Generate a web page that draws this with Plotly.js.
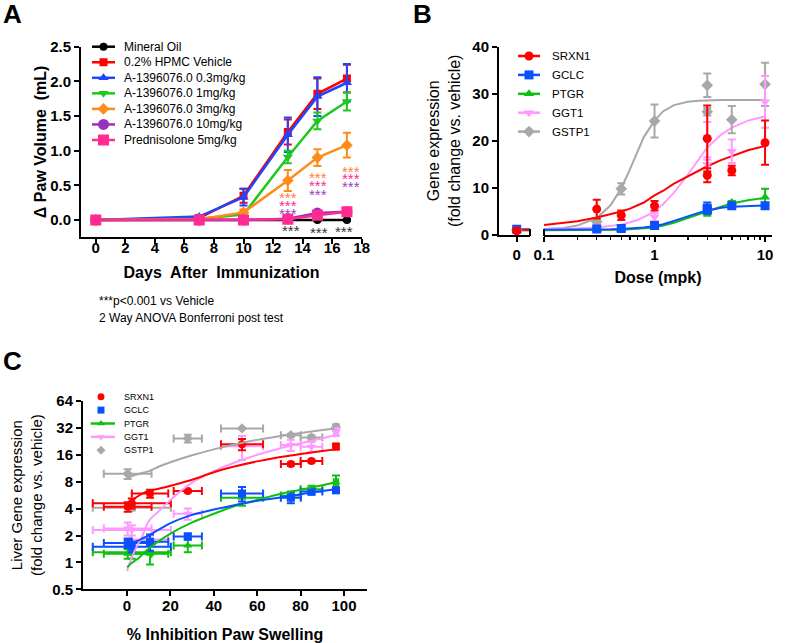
<!DOCTYPE html>
<html><head><meta charset="utf-8">
<script src="https://cdn.plot.ly/plotly-3.0.1.min.js"></script>
<style>html,body{margin:0;padding:0;background:#fff}#chart{width:789px;height:643px}</style>
</head><body><div id="chart"></div>
<script>
// ================= DATA =================
// ---- Panel A: paw volume over time ----
const daysA = [0, 7, 10, 13, 15, 17];
const namesA = ['Mineral Oil', '0.2% HPMC Vehicle', 'A-1396076.0 0.3mg/kg', 'A-1396076.0 1mg/kg',
                'A-1396076.0 3mg/kg', 'A-1396076.0 10mg/kg', 'Prednisolone 5mg/kg'];
const mineralOil    = [0, 0, 0, 0, 0, 0];
const mineralOilErr = [0, 0, 0, 0.01, 0.01, 0.01];
const vehicle       = [0, 0.03, 0.35, 1.27, 1.82, 2.04];
const vehicleErr    = [0, 0.02, 0.10, 0.18, 0.22, 0.20];
const dose03        = [0, 0.05, 0.33, 1.23, 1.78, 1.98];
const dose03Err     = [0, 0.02, 0.12, 0.25, 0.28, 0.27];
const dose1         = [0, 0.02, 0.08, 0.91, 1.43, 1.71];
const dose1Err      = [0, 0.01, 0.03, 0.09, 0.12, 0.13];
const dose3         = [0, 0.01, 0.11, 0.57, 0.90, 1.08];
const dose3Err      = [0, 0.01, 0.04, 0.15, 0.12, 0.18];
const dose10        = [0, 0, 0, 0.02, 0.10, 0.12];
const dose10Err     = [0, 0, 0, 0.01, 0.02, 0.02];
const pred          = [0, 0, 0, 0.01, 0.07, 0.12];
const predErr       = [0, 0, 0, 0.01, 0.02, 0.02];
const ticksAx = [0, 2, 4, 6, 8, 10, 12, 14, 16, 18];
const ticksAy = [0, 0.5, 1.0, 1.5, 2.0, 2.5];
// significance marks (day, level)
const sigColorDays = [13, 15.05, 17.25];
const sigOrangeY = [0.375, 0.65, 0.746];
const sigPinkY   = [0.255, 0.54, 0.635];
const sigPurpleY = [0.144, 0.41, 0.52];
const sigBlackDays = [13.2, 15.1, 16.8];
const sigBlackY    = [-0.11, -0.13, -0.12];

// ---- Panel B: gene expression vs dose ----
const genes = ['SRXN1', 'GCLC', 'PTGR', 'GGT1', 'GSTP1'];
const doseB = [0.3, 0.5, 1, 3, 3, 5, 10];
const srxn1B = [5.5, 4.2, 6.2, 20.5, 12.7, 13.7, 19.6];
const srxn1BErr = [2.0, 1.0, 1.0, 7.0, 1.5, 1.0, 4.7];
const gclcB = [1.3, 1.4, 2.0, 5.7, 5.3, 6.2, 6.2];
const gclcBErr = [0.3, 0.3, 0.4, 1.2, 0.6, 0.4, 0.5];
const ptgrB = [1.1, 1.1, 1.6, 4.9, 5.2, 6.9, 8.0];
const ptgrBErr = [0.2, 0.2, 0.3, 0.8, 0.5, 0.3, 1.8];
const ggt1B = [1.4, 1.7, 3.8, 20.0, 15.0, 17.8, 28.3];
const ggt1BErr = [0.3, 0.4, 0.8, 4.0, 1.5, 2.5, 5.5];
const gstp1B = [2.8, 9.8, 24.2, 31.8, 26.2, 24.5, 32.0];
const gstp1BErr = [0.5, 1.2, 3.5, 2.5, 0.8, 2.9, 4.6];
// vehicle (dose 0) values
const zeroDose = [0];
const srxn1Zero = [0.9], gclcZero = [1.2], ptgrZero = [1.0], ggt1Zero = [1.0], gstp1Zero = [1.0];
const zeroErr = [0.3];
// fitted curves
const curveDoseB = [0.1, 0.15, 0.2, 0.3, 0.4, 0.5, 0.6, 0.7, 0.8, 1, 1.2, 1.5, 2, 2.5, 3, 4, 5, 7, 10];
const srxn1Curve = [2.1, 2.5, 2.9, 3.7, 4.4, 5.0, 5.6, 6.3, 6.9, 8.4, 9.4, 10.9, 12.5, 13.7, 14.6, 15.9, 16.8, 18.0, 18.9];
const gclcCurve  = [1.1, 1.1, 1.1, 1.2, 1.2, 1.3, 1.4, 1.5, 1.6, 1.9, 2.3, 3.0, 4.0, 4.7, 5.2, 5.8, 6.0, 6.2, 6.3];
const ptgrCurve  = [1.0, 1.0, 1.0, 1.0, 1.1, 1.1, 1.2, 1.3, 1.4, 1.6, 2.0, 2.6, 3.6, 4.4, 5.0, 6.0, 6.7, 7.4, 7.9];
const ggt1Curve  = [1.3, 1.3, 1.4, 1.6, 1.9, 2.2, 2.7, 3.2, 3.8, 5.0, 6.6, 9.0, 12.8, 16.0, 18.6, 21.3, 22.8, 24.3, 25.2];
const gstp1Curve = [1.3, 1.5, 2.0, 3.6, 6.3, 9.9, 14.0, 17.8, 20.8, 24.3, 26.3, 27.6, 28.3, 28.5, 28.6, 28.7, 28.7, 28.7, 28.7];
const zeroCurveLevel = [1.1, 1.2, 1.0, 1.0, 1.0];
const ticksBx = [0.1, 1, 10];
const ticksBxText = ['0.1', '1', '10'];
const minorBx = [0.2, 0.3, 0.4, 0.5, 0.6, 0.7, 0.8, 0.9, 2, 3, 4, 5, 6, 7, 8, 9];
const ticksBy = [0, 10, 20, 30, 40];

// ---- Panel C: gene expression vs % inhibition ----
const inhibC    = [0.3, 2.2, 10.6, 28, 53, 75.5, 85, 96.3];
const inhibCErr = [11, 18, 8.4, 6.5, 9.7, 4.6, 5, 1];
const srxn1C = [4.2, 4.6, 5.9, 6.3, 21.0, 12.6, 13.6, 19.8];
const srxn1CErr = [0.5, 0.6, 0.6, 0.2, 3.0, 0.5, 0.5, 1.5];
const gclcC = [1.65, 1.5, 1.7, 1.95, 5.9, 5.3, 6.2, 6.4];
const gclcCErr = [0.2, 0.2, 0.35, 0.15, 1.1, 0.7, 0.5, 0.3];
const ptgrC = [1.25, 1.3, 1.25, 1.55, 5.3, 5.6, 6.6, 7.9];
const ptgrCErr = [0.15, 0.2, 0.3, 0.25, 1.0, 0.6, 0.6, 1.5];
const ggt1C = [2.4, 2.3, 1.8, 3.5, 20.0, 20.6, 19.7, 29.0];
const ggt1CErr = [0.4, 0.3, 0.2, 0.5, 6.0, 3.0, 2.5, 3.0];
const gstp1C = [9.8, 4.1, null, 24.4, 31.6, 26.5, 25.0, 32.5];
const gstp1CErr = [1.2, 0.3, null, 2.5, 0.5, 1.0, 1.5, 2.5];
const curveInhibC = [0, 1, 2, 3, 5, 7, 10, 15, 20, 30, 40, 50, 60, 70, 80, 90, 96];
const srxn1CCurve = [4.5, 4.6, 4.9, 5.1, 5.5, 5.9, 6.3, 6.7, 7.2, 8.4, 10.2, 11.9, 13.5, 15.0, 16.3, 17.6, 18.4];
const gclcCCurve  = [1.5, 1.55, 1.6, 1.65, 1.75, 1.85, 2.0, 2.35, 2.75, 3.4, 3.9, 4.4, 4.9, 5.3, 5.8, 6.3, 6.6];
const ptgrCCurve  = [0.88, 0.93, 0.98, 1.02, 1.1, 1.22, 1.42, 1.75, 2.1, 2.8, 3.5, 4.3, 5.0, 5.8, 6.5, 7.3, 7.9];
const ggt1CCurve  = [0.8, 0.95, 1.1, 1.25, 1.6, 1.95, 2.9, 3.8, 5.0, 7.8, 10.5, 13.2, 16.0, 18.7, 21.5, 24.5, 26.5];
const gstp1CCurve = [8.8, 9.0, 9.2, 9.4, 9.7, 10.0, 10.5, 11.9, 13.2, 15.8, 18.4, 21.0, 23.5, 25.8, 28.1, 30.3, 31.6];
const ticksCx = [0, 20, 40, 60, 80, 100];
const ticksCy = [0.5, 1, 2, 4, 8, 16, 32, 64];
const ticksCyText = ['0.5', '1', '2', '4', '8', '16', '32', '64'];

// ================= STYLE / LAYOUT =================
const W = 789, H = 643;
const px = v => v / W;
const py = v => 1 - v / H;
const FONT = 'Arial, "Liberation Sans", Helvetica, sans-serif';

const colA = ['#000000', '#ff0000', '#1f45ff', '#1ec81e', '#ff8c1a', '#9b30c0', '#ff2a92'];
const symA = ['circle', 'square', 'triangle-up', 'triangle-down', 'diamond', 'circle', 'square'];
const sizeA = [8, 8, 9, 9, 9, 11, 11];
const colG = ['#ff0000', '#0a50ff', '#10c010', '#ff99ff', '#a8a8a8'];
const symG = ['circle', 'square', 'triangle-up', 'triangle-down', 'diamond'];

const traces = [];
// ---- Panel A traces ----
const valsA = [mineralOil, vehicle, dose03, dose1, dose3, dose10, pred];
const errsA = [mineralOilErr, vehicleErr, dose03Err, dose1Err, dose3Err, dose10Err, predErr];
valsA.forEach((v, i) => {
  traces.push({
    x: daysA, y: v, name: namesA[i], type: 'scatter', mode: 'lines+markers',
    xaxis: 'x', yaxis: 'y', showlegend: false, hoverinfo: 'skip',
    line: {color: colA[i], width: 2.5},
    marker: {symbol: symA[i], size: sizeA[i], color: colA[i]},
    error_y: {type: 'data', array: errsA[i], color: colA[i], thickness: 2, width: 4}
  });
});

// ---- Panel B traces ----
const valsB = [srxn1B, gclcB, ptgrB, ggt1B, gstp1B];
const errsB = [srxn1BErr, gclcBErr, ptgrBErr, ggt1BErr, gstp1BErr];
const curvesB = [srxn1Curve, gclcCurve, ptgrCurve, ggt1Curve, gstp1Curve];
const zerosB = [srxn1Zero, gclcZero, ptgrZero, ggt1Zero, gstp1Zero];
const orderB = [4, 3, 2, 1, 0];
const xRange3 = [-0.571, 0.429];
orderB.forEach(i => {
  traces.push({x: curveDoseB, y: curvesB[i], type: 'scatter', mode: 'lines', xaxis: 'x2', yaxis: 'y2',
    showlegend: false, hoverinfo: 'skip', line: {color: colG[i], width: 2}});
  traces.push({x: [zeroDose[0], xRange3[1]], y: [zeroCurveLevel[i], zeroCurveLevel[i]], type: 'scatter', mode: 'lines',
    xaxis: 'x3', yaxis: 'y2', showlegend: false, hoverinfo: 'skip', line: {color: colG[i], width: 2}, cliponaxis: false});
});
orderB.forEach(i => {
  traces.push({x: doseB, y: valsB[i], name: genes[i], type: 'scatter', mode: 'markers', xaxis: 'x2', yaxis: 'y2',
    showlegend: false, hoverinfo: 'skip',
    marker: {symbol: symG[i], size: 9, color: colG[i]},
    error_y: {type: 'data', array: errsB[i], color: colG[i], thickness: 2, width: 4}});
  traces.push({x: zeroDose, y: zerosB[i], type: 'scatter', mode: 'markers', xaxis: 'x3', yaxis: 'y2',
    showlegend: false, hoverinfo: 'skip',
    marker: {symbol: symG[i], size: 9, color: colG[i]},
    error_y: {type: 'data', array: zeroErr, color: colG[i], thickness: 2, width: 4}});
});

// ---- Panel C traces ----
const valsC = [srxn1C, gclcC, ptgrC, ggt1C, gstp1C];
const errsC = [srxn1CErr, gclcCErr, ptgrCErr, ggt1CErr, gstp1CErr];
const curvesC = [srxn1CCurve, gclcCCurve, ptgrCCurve, ggt1CCurve, gstp1CCurve];
orderB.forEach(i => {
  traces.push({x: inhibC, y: valsC[i], name: genes[i], type: 'scatter', mode: 'markers', xaxis: 'x4', yaxis: 'y4',
    showlegend: false, hoverinfo: 'skip',
    marker: {symbol: symG[i], size: 8, color: colG[i]},
    error_y: {type: 'data', array: errsC[i], color: colG[i], thickness: 2, width: 4},
    error_x: {type: 'data', array: inhibCErr, color: colG[i], thickness: 2, width: 4}});
});
orderB.forEach(i => {
  traces.push({x: curveInhibC, y: curvesC[i], type: 'scatter', mode: 'lines', xaxis: 'x4', yaxis: 'y4',
    showlegend: false, hoverinfo: 'skip', line: {color: colG[i], width: 2, shape: 'spline'}});
});

// ---- Manual legends on an overlay pixel axis ----
const annotations = [];
function addLegend(names, cols, syms, sizes, withLine, x0, x1, xm, xt, y0, dy, fs) {
  names.forEach((n, i) => {
    const y = y0 + i * dy;
    if (withLine[i]) {
      traces.push({x: [x0, x1], y: [y, y], type: 'scatter', mode: 'lines', xaxis: 'x9', yaxis: 'y9',
        showlegend: false, hoverinfo: 'skip', line: {color: cols[i], width: 2.5}});
    }
    traces.push({x: [xm], y: [y], type: 'scatter', mode: 'markers', xaxis: 'x9', yaxis: 'y9',
      showlegend: false, hoverinfo: 'skip', marker: {symbol: syms[i], size: sizes[i], color: cols[i]}});
    annotations.push({xref: 'paper', yref: 'paper', x: px(xt), y: py(y), xanchor: 'left', yanchor: 'middle',
      text: n, showarrow: false, font: {family: FONT, size: fs, color: '#000'}});
  });
}
addLegend(namesA, colA, symA, sizeA, namesA.map(() => true), 92, 115, 103.5, 122, 46.7, 15.55, 12);
addLegend(genes, colG, symG, genes.map(() => 9), genes.map(() => true), 518, 540, 529, 550, 56, 18.9, 11.5);
addLegend(genes, colG, symG, genes.map(() => 7), [false, false, true, true, false], 90.7, 115, 101, 121.7, 396.7, 13.4, 9);

// ---- significance stars (panel A) ----
function addStars(xs, ys, color) {
  xs.forEach((x, i) => annotations.push({xref: 'x', yref: 'y', x: x, y: ys[i], text: '***', showarrow: false,
    xanchor: 'center', yanchor: 'middle', yshift: -3,
    font: {family: FONT, size: 15, color: color}}));
}
addStars(sigColorDays, sigOrangeY, '#ff7f3a');
addStars(sigColorDays, sigPinkY, '#ff2a92');
addStars(sigColorDays, sigPurpleY, '#9b40c8');
addStars(sigBlackDays, sigBlackY, '#333333');

// ---- panel letters and notes ----
[['A', 12, 14], ['B', 422, 14], ['C', 12, 361]].forEach(([t, x, y]) => annotations.push({
  xref: 'paper', yref: 'paper', x: px(x), y: py(y), xanchor: 'center', yanchor: 'middle', showarrow: false,
  text: t, font: {family: FONT, size: 26, color: '#000', weight: 700}}));
[['***p<0.001 vs Vehicle', 301], ['2 Way ANOVA Bonferroni post test', 318]].forEach(([t, y]) => annotations.push({
  xref: 'paper', yref: 'paper', x: px(96.7), y: py(y), xanchor: 'left', yanchor: 'middle', showarrow: false,
  text: t, font: {family: FONT, size: 12, color: '#000'}}));

function ax(extra) {
  return Object.assign({
    showline: true, linecolor: '#000', linewidth: 2, mirror: false,
    ticks: 'outside', ticklen: 5, tickwidth: 2, tickcolor: '#000',
    showgrid: false, zeroline: false, fixedrange: true, automargin: false,
    tickfont: {family: FONT, size: 15, color: '#000', weight: 700}
  }, extra);
}
const titleBold = {family: FONT, size: 16, color: '#000', weight: 700};
const titleReg = {family: FONT, size: 16, color: '#000'};

const layout = {
  width: W, height: H, autosize: false,
  margin: {l: 0, r: 0, t: 0, b: 0, pad: 0},
  paper_bgcolor: '#fff', plot_bgcolor: 'rgba(0,0,0,0)',
  showlegend: false,
  font: {family: FONT, color: '#000'},
  // Panel A
  xaxis: ax({domain: [px(81), px(362)], range: [-1, 18.02], anchor: 'y', tickvals: ticksAx, ticklabelstandoff: -9,
    title: {text: 'Days  After  Immunization', font: titleBold, standoff: 12}}),
  yaxis: ax({domain: [py(237), py(46.7)], range: [-0.245, 2.5], anchor: 'x', tickvals: ticksAy, tickformat: '.1f',
    title: {text: 'Δ Paw Volume  (mL)', font: titleBold, standoff: 0}}),
  // Panel B (log part)
  xaxis2: ax({domain: [px(544), px(772)], type: 'log', range: [-1, 1.063], anchor: 'y2',
    tickvals: ticksBx, ticktext: ticksBxText,
    minor: {tickvals: minorBx, ticks: 'outside', ticklen: 3, tickwidth: 1.5, tickcolor: '#000'},
    title: {text: 'Dose (mpk)', font: titleBold, standoff: 10}}),
  // Panel B zero segment
  xaxis3: ax({domain: [px(499), px(530)], range: xRange3, anchor: 'y2', tickvals: zeroDose, ticktext: ['0']}),
  yaxis2: ax({domain: [py(235), py(46.7)], range: [0, 40], anchor: 'x3', tickvals: ticksBy,
    title: {text: 'Gene expression<br>(fold change vs. vehicle)', font: titleReg, standoff: 8}}),
  // Panel C
  xaxis4: ax({domain: [px(83), px(367)], range: [-20.3, 110.6], anchor: 'y4', tickvals: ticksCx, ticklabelstandoff: -3,
    title: {text: '% Inhibition Paw Swelling', font: titleBold, standoff: 17}}),
  yaxis4: ax({domain: [py(589.3), py(401)], type: 'log', range: [Math.log10(0.5), Math.log10(64)], anchor: 'x4',
    tickvals: ticksCy, ticktext: ticksCyText,
    title: {text: 'Liver Gene expression<br>(fold change vs. vehicle)', font: {family: FONT, size: 15, color: '#000'}, standoff: 6}}),
  // overlay pixel axes for manual legends
  xaxis9: {domain: [0, 1], range: [0, W], visible: false, fixedrange: true, anchor: 'y9'},
  yaxis9: {domain: [0, 1], range: [H, 0], visible: false, fixedrange: true, anchor: 'x9'},
  annotations: annotations,
  shapes: [
    {type: 'line', xref: 'paper', yref: 'paper', x0: px(530), x1: px(530), y0: py(229), y1: py(236), line: {color: '#000', width: 2}},
    {type: 'line', xref: 'paper', yref: 'paper', x0: px(544), x1: px(544), y0: py(229), y1: py(236), line: {color: '#000', width: 2}}
  ]
};

Plotly.newPlot('chart', traces, layout, {displayModeBar: false, staticPlot: true});
</script>
</body></html>
